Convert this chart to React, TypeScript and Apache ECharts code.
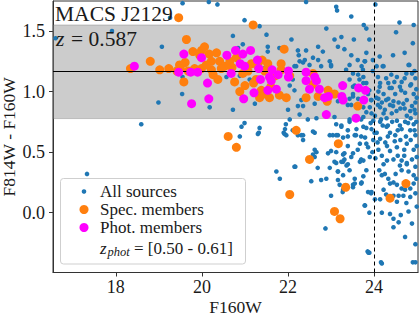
import React, { useEffect, useRef } from "react";
import * as echarts from "echarts";

// ---- data ----
const xTicks = [18, 20, 22, 24];
const yTicks = [0, 0.5, 1.0, 1.5];
const xRange = [16.54, 25.02];
const yRange = [-0.494, 1.748];
const bandLow = 0.777;
const bandHigh = 1.55;
const redSequence = 1.165;
const magLimit = 24;

const allSources: number[][] = [
  [16.60,1.44],[17.91,1.50],[19.26,1.61],[19.07,1.37],[18.99,0.91],[18.59,0.73],[17.33,0.32],
  [19.55,1.73],[20.16,1.74],[20.36,1.72],[20.88,1.75],[20.99,1.59],[21.34,1.54],[20.72,1.46],[22.08,1.43],[21.50,1.47],
  [20.95,1.39],[20.84,1.36],[21.53,1.37],[21.53,1.33],[21.80,1.36],[22.15,1.21],[22.11,1.10],[22.15,1.01],[22.04,1.05],
  [19.54,0.98],[19.55,1.12],[20.18,0.87],[20.72,0.85],[21.23,0.90],[22.00,0.85],[22.23,0.88],[20.99,0.74],[20.92,0.71],
  [21.34,0.70],[21.30,0.65],[20.88,0.63],[22.04,0.77],[21.95,0.73],[21.93,0.69],[21.90,0.66],[21.96,0.64],[22.11,0.68],
  [21.11,1.10],[20.88,1.13],[20.57,1.12],[21.44,1.19],[22.27,0.81],[21.32,0.66],[21.92,0.65],[21.73,0.34],[21.81,0.28],
  [22.17,0.38],[22.25,1.30],[22.42,1.34],[22.58,1.28],[22.70,1.26],[22.19,1.21],[22.35,1.24],[22.62,0.66],[22.62,0.52],
  [22.93,0.49],[22.66,0.50],[22.62,0.46],[22.87,-0.13],[23.85,-0.32],[24.16,-0.41],[24.90,-0.41],
  [22.42,1.74],[23.12,1.70],[23.14,1.67],[23.47,1.62],[24.03,1.72],[23.76,1.55],[24.59,1.57],[24.92,1.55],[22.89,1.52],
  [23.82,1.52],[24.51,1.49],[23.08,1.43],[23.24,1.45],[23.53,1.43],[23.89,1.43],[24.90,1.40],[22.23,1.34],[22.70,1.37],
  [22.81,1.33],[23.16,1.37],[23.31,1.35],[23.47,1.30],[23.82,1.32],[24.13,1.29],[24.44,1.30],[24.71,1.32],[22.27,1.25],
  [22.39,1.26],[22.97,1.25],[23.62,1.26],[23.78,1.25],[23.97,1.26],[24.20,1.21],[24.82,1.22],[22.50,1.22],[23.35,1.18],
  [23.51,1.15],[23.74,1.18],[23.97,1.17],[22.77,1.21],[23.00,1.21],[24.09,1.12],[24.28,1.11],[24.47,1.08],[24.71,1.11],
  [24.94,1.17],[23.66,1.10],[23.82,1.07],[23.51,1.04],[23.89,1.01],[24.13,1.04],[24.36,1.03],[24.63,1.01],[24.86,1.06],
  [22.31,0.93],[22.35,0.88],[22.62,0.90],[23.16,0.92],[23.39,0.89],[23.51,0.96],[23.93,0.93],[24.09,0.89],[24.28,0.93],
  [24.44,0.88],[24.71,0.86],[24.94,0.85],[22.46,0.77],[22.66,0.78],[23.08,0.79],[23.24,0.72],[23.43,0.75],[23.70,0.77],
  [23.82,0.70],[24.16,0.77],[24.32,0.72],[24.55,0.68],[24.79,0.74],[24.94,0.68],[22.31,0.64],[22.58,0.67],[23.16,0.64],
  [24.01,0.66],[24.32,0.63],[24.74,0.63],
  [23.00,1.22],[23.43,1.22],[23.71,1.21],[23.79,1.25],[24.06,1.21],[24.22,1.21],[24.80,1.22],[24.88,1.15],[23.75,1.12],
  [23.63,1.14],[23.43,1.10],[23.55,1.05],[23.75,1.07],[24.14,1.07],[24.33,1.07],[24.53,1.12],[24.64,1.08],[24.84,1.05],
  [24.96,1.11],[24.41,1.03],[24.22,0.98],[24.49,0.98],[24.72,0.99],[24.92,0.98],[23.51,0.98],[23.43,0.94],[23.63,0.94],
  [23.86,0.98],[23.94,0.93],[24.10,0.94],[24.33,0.94],[24.57,0.91],[24.76,0.93],[24.96,0.91],[23.47,0.89],[23.75,0.87],
  [23.90,0.87],[24.14,0.87],[24.37,0.89],[24.61,0.86],[24.84,0.84],[23.82,0.83],[23.94,0.82],[24.22,0.82],[24.41,0.82],
  [24.76,0.80],[24.96,0.82],[23.43,0.77],[23.75,0.79],[23.98,0.76],[24.14,0.75],[24.29,0.78],[24.53,0.76],[24.72,0.75],
  [24.92,0.73],[23.12,0.73],[23.24,0.71],[23.39,0.68],[23.59,0.69],[23.75,0.71],[23.94,0.69],[24.06,0.66],[24.29,0.71],
  [24.37,0.66],[24.49,0.64],[24.64,0.69],[24.84,0.68],[24.96,0.64],[23.04,0.64],[23.28,0.62],[23.55,0.64],[23.79,0.62],
  [24.14,0.61],[24.26,0.58],[24.61,0.60],[24.76,0.57],[23.12,0.57],[23.39,0.55],[23.67,0.57],[23.86,0.54],[24.10,0.52],
  [24.37,0.51],[24.53,0.54],[24.92,0.52],[23.00,0.51],[23.28,0.48],[23.47,0.46],[23.75,0.43],[23.90,0.46],[24.18,0.47],
  [24.45,0.44],[24.64,0.43],[24.88,0.44],[23.12,0.41],[23.39,0.40],[24.22,0.40],[24.76,0.40],
  [23.08,0.42],[23.28,0.42],[23.36,0.39],[23.16,0.34],[23.28,0.31],[23.20,0.23],[23.28,0.19],[23.51,0.21],[23.71,0.25],
  [23.55,0.28],[23.75,0.30],[23.67,0.42],[23.82,0.35],[23.00,0.14],[23.86,0.17],[23.94,0.17],[23.79,0.06],[23.89,0.00],
  [24.02,0.11],[24.14,0.11],[24.18,0.31],[24.25,0.32],[24.33,0.28],[24.45,0.25],[24.53,0.23],[24.37,0.24],[24.22,0.19],
  [24.64,0.20],[24.72,0.19],[24.84,0.20],[24.92,0.24],[24.45,0.14],[24.57,0.14],[24.68,0.14],[24.84,0.13],[24.96,0.16],
  [24.53,0.09],[24.64,0.35],[24.80,0.34],[24.92,0.31],[24.60,0.39],[24.76,0.41],[24.96,0.38],[24.18,0.00],[24.37,-0.01],
  [24.45,-0.05],[24.57,-0.08],[24.45,-0.12],[24.80,0.01],[24.88,-0.09],[24.96,-0.26],[24.72,-0.20],[23.89,-0.33],
  [24.18,-0.42],[24.96,-0.41],
  [22.23,0.64],[22.35,0.64],[22.97,0.64],[23.12,0.64],[23.39,0.63],[23.58,0.64],[23.70,0.63],[23.82,0.57],[22.35,0.60],
  [22.58,0.48],[23.12,0.50],[23.31,0.49],[23.51,0.49],[23.62,0.52],[22.15,0.38],[22.69,0.37],[22.97,0.37],[23.16,0.34],
  [23.24,0.42],[23.31,0.44],[23.43,0.35],[23.70,0.44],[22.54,0.26],[22.77,0.27],[22.89,0.28],[23.16,0.27],[23.51,0.23],
  [23.55,0.24],[23.70,0.24],[23.27,0.17],[23.93,0.16],[23.78,0.06],[23.87,-0.33],
  [24.05,0.95],[24.18,0.91],[24.25,0.85],[24.45,0.92],[24.52,0.84],[24.68,0.90],[24.88,0.88],[24.99,0.95],[24.02,0.80],
  [24.20,0.72],[24.42,0.75],[24.60,0.72],[24.85,0.78],[24.98,0.75],[24.08,0.58],[24.30,0.55],[24.48,0.59],[24.70,0.52],
  [24.85,0.60],[24.99,0.55],[24.03,0.45],[24.30,0.43],[24.55,0.47],[24.70,0.47],[24.99,0.46],[24.10,1.00],[24.60,1.04],
  [24.98,1.02],[24.40,1.14],[24.75,1.15],[23.92,0.74],[23.98,0.60],[23.96,0.50],[24.12,0.35],[24.50,0.32],[24.98,0.28],
  [24.28,0.15],[24.75,0.08],[24.99,0.05],[24.62,-0.02]
];

const specMembers: number[][] = [
  [18.34,1.19],[18.80,1.25],[19.02,1.18],[19.23,1.19],[19.46,1.61],[19.64,1.43],[19.42,1.17],[19.48,1.22],[19.61,1.24],
  [19.58,1.08],[19.68,1.17],[19.79,1.33],[19.83,1.19],[19.99,1.34],[20.06,1.37],[19.95,1.30],[19.99,1.19],[20.17,1.31],
  [20.22,1.25],[20.22,1.18],[20.26,1.14],[20.34,1.32],[20.37,1.10],[20.41,1.25],[20.53,1.21],[20.65,1.25],[20.76,1.08],
  [20.80,1.28],[20.88,1.00],[21.07,1.17],[21.15,1.23],[21.19,1.55],[21.26,1.10],[21.30,1.21],[21.34,0.95],[21.38,1.01],
  [21.46,0.98],[21.46,1.17],[21.53,1.23],[21.57,0.95],[21.80,0.97],[21.84,1.23],[21.84,1.18],[21.91,1.35],[21.96,0.95],
  [22.04,1.13],[19.50,1.19],[20.10,1.22],[20.45,1.19],[20.70,1.20],[20.95,1.15],[21.00,1.05],[21.20,1.07],[21.60,1.04],
  [21.70,1.13],[21.40,1.26],
  [20.61,0.63],[20.80,0.54],[22.19,0.68],[22.50,0.44],[22.58,1.15],[22.58,1.06],[22.42,0.95],[22.70,0.96],[22.93,1.01],
  [23.08,0.98],[22.91,0.92],[23.62,0.88],[23.17,0.57],[22.04,0.15],[23.34,0.21],[23.08,0.01],[23.21,-0.05],[24.37,0.12],
  [24.74,0.24]
];

const photMembers: number[][] = [
  [18.43,1.21],[19.46,1.16],[19.58,1.31],[19.74,1.16],[19.76,0.90],[19.90,1.16],[19.99,1.28],[20.13,1.07],[20.16,0.94],
  [20.58,1.30],[20.68,1.15],[20.78,1.34],[20.89,1.23],[20.95,1.31],[20.97,0.94],[20.99,1.21],[21.13,1.34],[21.21,0.99],
  [21.29,1.26],[21.32,1.19],[21.36,1.10],[21.53,1.01],[21.57,1.12],[21.61,1.09],[21.63,1.18],[21.73,1.02],[21.77,1.14],
  [22.01,1.17],[22.01,1.12],[22.42,1.16],[22.42,1.09],[22.62,1.12],[22.66,1.09],[22.50,1.02],[22.73,1.02],[22.85,0.95],
  [22.94,0.96],[23.27,1.05],[23.25,0.96],[23.28,0.93],[23.64,1.03],[23.80,1.01],[23.76,0.93],[22.89,0.81],[23.58,0.78]
];

const legendLabels = ["All sources", "Spec. members", "Phot. members"];
const clusterName = "MACS J2129";
const clusterZ = "= 0.587";
const zphotRange = "= [0.50 - 0.61]";

const BLUE = "#1f77b4";
const ORANGE = "#ff7f0e";
const MAGENTA = "#ff00ff";
const FONT = "Liberation Serif";
const INK = "#1a1a1a";

export default function App() {
  const ref = useRef<HTMLDivElement>(null);
  useEffect(() => {
    if (!ref.current) return;
    const chart = echarts.init(ref.current, null, { renderer: "svg" });
    const legendX = 84;
    const textX = 100;
    const rows = [191.5, 209.5, 227.5];
    const colors = [BLUE, ORANGE, MAGENTA];
    const radii = [2.3, 4.5, 4.5];
    const graphic: any[] = [
      {
        type: "rect",
        shape: { x: 60.5, y: 178.5, width: 185, height: 85.5, r: 3 },
        style: { fill: "rgba(255,255,255,0.85)", stroke: "#cfcfcf", lineWidth: 1 },
        z: 100,
      },
      ...legendLabels.map((t, i) => ({
        type: "circle",
        shape: { cx: legendX, cy: rows[i], r: radii[i] },
        style: { fill: colors[i] },
        z: 101,
      })),
      ...legendLabels.map((t, i) => ({
        type: "text",
        x: textX,
        y: rows[i],
        style: { text: t, font: `17px "${FONT}"`, fill: INK, verticalAlign: "middle" },
        z: 101,
      })),
      {
        type: "text", x: 100, y: 248,
        style: { text: "z", font: `italic 17px "${FONT}"`, fill: INK, verticalAlign: "middle" },
        z: 101,
      },
      {
        type: "text", x: 107.5, y: 252,
        style: { text: "phot", font: `italic 12.5px "${FONT}"`, fill: INK, verticalAlign: "middle" },
        z: 101,
      },
      {
        type: "text", x: 134, y: 248,
        style: { text: zphotRange, font: `17px "${FONT}"`, fill: INK, verticalAlign: "middle" },
        z: 101,
      },
      {
        type: "text", x: 55, y: 14,
        style: { text: clusterName, font: `21.5px "${FONT}"`, fill: INK, verticalAlign: "middle" },
        z: 101,
      },
      {
        type: "text", x: 56, y: 38.5,
        style: { text: "z", font: `italic 21.5px "${FONT}"`, fill: INK, verticalAlign: "middle" },
        z: 101,
      },
      {
        type: "text", x: 71, y: 38.5,
        style: { text: clusterZ, font: `21.5px "${FONT}"`, fill: INK, verticalAlign: "middle" },
        z: 101,
      },
    ];

    chart.setOption({
      animation: false,
      grid: {
        left: 53, right: 1, top: 1, bottom: 43.5,
        outerBoundsMode: "none",
        containLabel: false,
        show: true, borderColor: "#333", borderWidth: 1, backgroundColor: "transparent",
      },
      xAxis: {
        type: "value",
        min: xRange[0],
        max: xRange[1],
        name: "F160W",
        nameLocation: "middle",
        nameGap: 25,
        nameMoveOverlap: false,
        nameTextStyle: { fontFamily: FONT, fontSize: 17.5, color: INK },
        axisLine: { onZero: false, lineStyle: { color: "#333", width: 1 } },
        axisTick: { customValues: xTicks, length: 4, lineStyle: { color: "#333" } },
        axisLabel: { customValues: xTicks, formatter: (v: number) => String(v), fontFamily: FONT, fontSize: 18, color: INK, margin: 5 },
        splitLine: { show: false },
      },
      yAxis: {
        type: "value",
        min: yRange[0],
        max: yRange[1],
        name: "F814W - F160W",
        nameLocation: "middle",
        nameGap: 35,
        nameMoveOverlap: false,
        nameTextStyle: { fontFamily: FONT, fontSize: 17.5, color: INK },
        axisLine: { onZero: false, lineStyle: { color: "#333", width: 1 } },
        axisTick: { customValues: yTicks, length: 4, lineStyle: { color: "#333" } },
        axisLabel: { customValues: yTicks, formatter: (v: number) => v.toFixed(1), fontFamily: FONT, fontSize: 18, color: INK, margin: 8 },
        splitLine: { show: false },
      },
      graphic,
      series: [
        {
          type: "line",
          data: [],
          z: 1,
          silent: true,
          markArea: {
            silent: true,
            itemStyle: { color: "rgba(128,128,128,0.4)", borderColor: "rgba(110,110,110,0.35)", borderWidth: 1 },
            data: [[{ yAxis: bandLow }, { yAxis: bandHigh }]],
          },
          markLine: {
            silent: true,
            symbol: ["none", "none"],
            label: { show: false },
            lineStyle: { color: "#000", width: 1.2, type: "solid" },
            data: [{ yAxis: redSequence }],
          },
        },
        {
          type: "scatter",
          name: legendLabels[0],
          data: allSources,
          symbolSize: 4.6,
          itemStyle: { color: BLUE, opacity: 1 },
          z: 2,
        },
        {
          type: "line",
          data: [],
          z: 3,
          silent: true,
          markLine: {
            silent: true,
            symbol: ["none", "none"],
            label: { show: false },
            lineStyle: { color: "#000", width: 1, type: [4, 3] },
            data: [{ xAxis: magLimit }],
          },
        },
        {
          type: "scatter",
          name: legendLabels[1],
          data: specMembers,
          symbolSize: 9,
          itemStyle: { color: ORANGE, opacity: 1 },
          z: 4,
        },
        {
          type: "scatter",
          name: legendLabels[2],
          data: photMembers,
          symbolSize: 9,
          itemStyle: { color: MAGENTA, opacity: 1 },
          z: 5,
        },
      ],
    });
    return () => chart.dispose();
  }, []);
  return <div ref={ref} style={{ width: 419, height: 316, position: "absolute", left: 0, top: 0 }} />;
}
